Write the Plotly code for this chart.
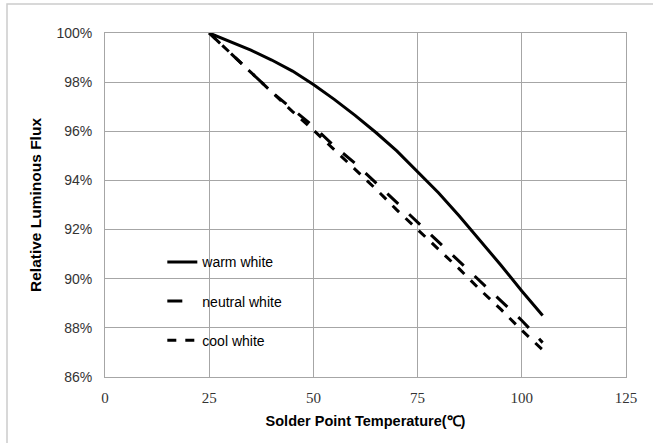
import plotly.graph_objects as go

temps = [25, 30, 35, 40, 45, 50, 55, 60, 65, 70, 75, 80, 85, 90, 95, 100, 105]
warm = [100, 99.65, 99.3, 98.9, 98.45, 97.9, 97.3, 96.65, 95.95, 95.2, 94.35, 93.5, 92.55, 91.55, 90.55, 89.5, 88.5]
neutral = [100, 99.2, 98.4, 97.6, 96.9, 96.2, 95.4, 94.7, 93.9, 93.1, 92.3, 91.5, 90.7, 89.9, 89.1, 88.3, 87.4]
cool = [100, 99.2, 98.4, 97.6, 96.8, 96.05, 95.25, 94.45, 93.65, 92.8, 92.0, 91.2, 90.4, 89.55, 88.75, 87.9, 87.1]
series_names = ["warm white", "neutral white", "cool white"]
x_ticks = [0, 25, 50, 75, 100, 125]
y_ticks = [86, 88, 90, 92, 94, 96, 98, 100]
y_labels = [f"{v}%" for v in y_ticks]

W, H = 653, 443
ml, mr, mt, mb = 105, 27, 33, 66

fig = go.Figure()
styles = [("solid", 3), ("longdash", 3), ("dash", 3)]
for i, (name, ys) in enumerate(zip(series_names, [warm, neutral, cool])):
    dash, w = styles[i]
    fig.add_trace(go.Scatter(x=temps, y=ys, mode="lines", name=name,
                             legendgroup=name,
                             line=dict(color="black", width=w, dash=dash)))

pw = W - ml - mr
ph = H - mt - mb
fig.add_shape(type="rect", xref="paper", yref="paper",
              x0=(7 - ml) / pw, x1=(W + 5 - ml) / pw,
              y0=(H - mb - (H + 5)) / ph, y1=(H - mb - 4) / ph,
              line=dict(color="#cccccc", width=1.5), fillcolor="rgba(0,0,0,0)",
              layer="above")

fig.update_layout(
    width=W, height=H,
    margin=dict(l=ml, r=mr, t=mt, b=mb, autoexpand=False),
    paper_bgcolor="white", plot_bgcolor="white",
    showlegend=True,
    legend=dict(x=0.11, y=0.38, xanchor="left", yanchor="top",
                bgcolor="rgba(0,0,0,0)", traceorder="grouped",
                tracegroupgap=18,
                font=dict(family="Liberation Sans", size=14, color="black")),
    xaxis=dict(range=[0, 125], tickvals=x_ticks, ticks="", automargin=False,
               ticklabelstandoff=7,
               showgrid=True, gridcolor="#a6a6a6", gridwidth=1,
               showline=True, linecolor="#a6a6a6", mirror=True, zeroline=False,
               tickfont=dict(family="Liberation Serif", size=15, color="#333333"),
               title=dict(text="<b>Solder Point Temperature(℃)</b>",
                          font=dict(family="Liberation Sans", size=14.5, color="black"),
                          standoff=10)),
    yaxis=dict(range=[86, 100], tickvals=y_ticks, ticktext=y_labels, ticks="",
               automargin=False, ticklabelstandoff=9,
               showgrid=True, gridcolor="#a6a6a6", gridwidth=1,
               showline=True, linecolor="#a6a6a6", mirror=True, zeroline=False,
               tickfont=dict(family="Liberation Sans", size=14, color="#333333"),
               title=dict(text="<b>Relative Luminous Flux</b>",
                          font=dict(family="Liberation Sans", size=15.5, color="black"),
                          standoff=10)),
)

fig.write_html("out.html", config={"displayModeBar": False},
               post_script="document.body.style.margin='0px';")
